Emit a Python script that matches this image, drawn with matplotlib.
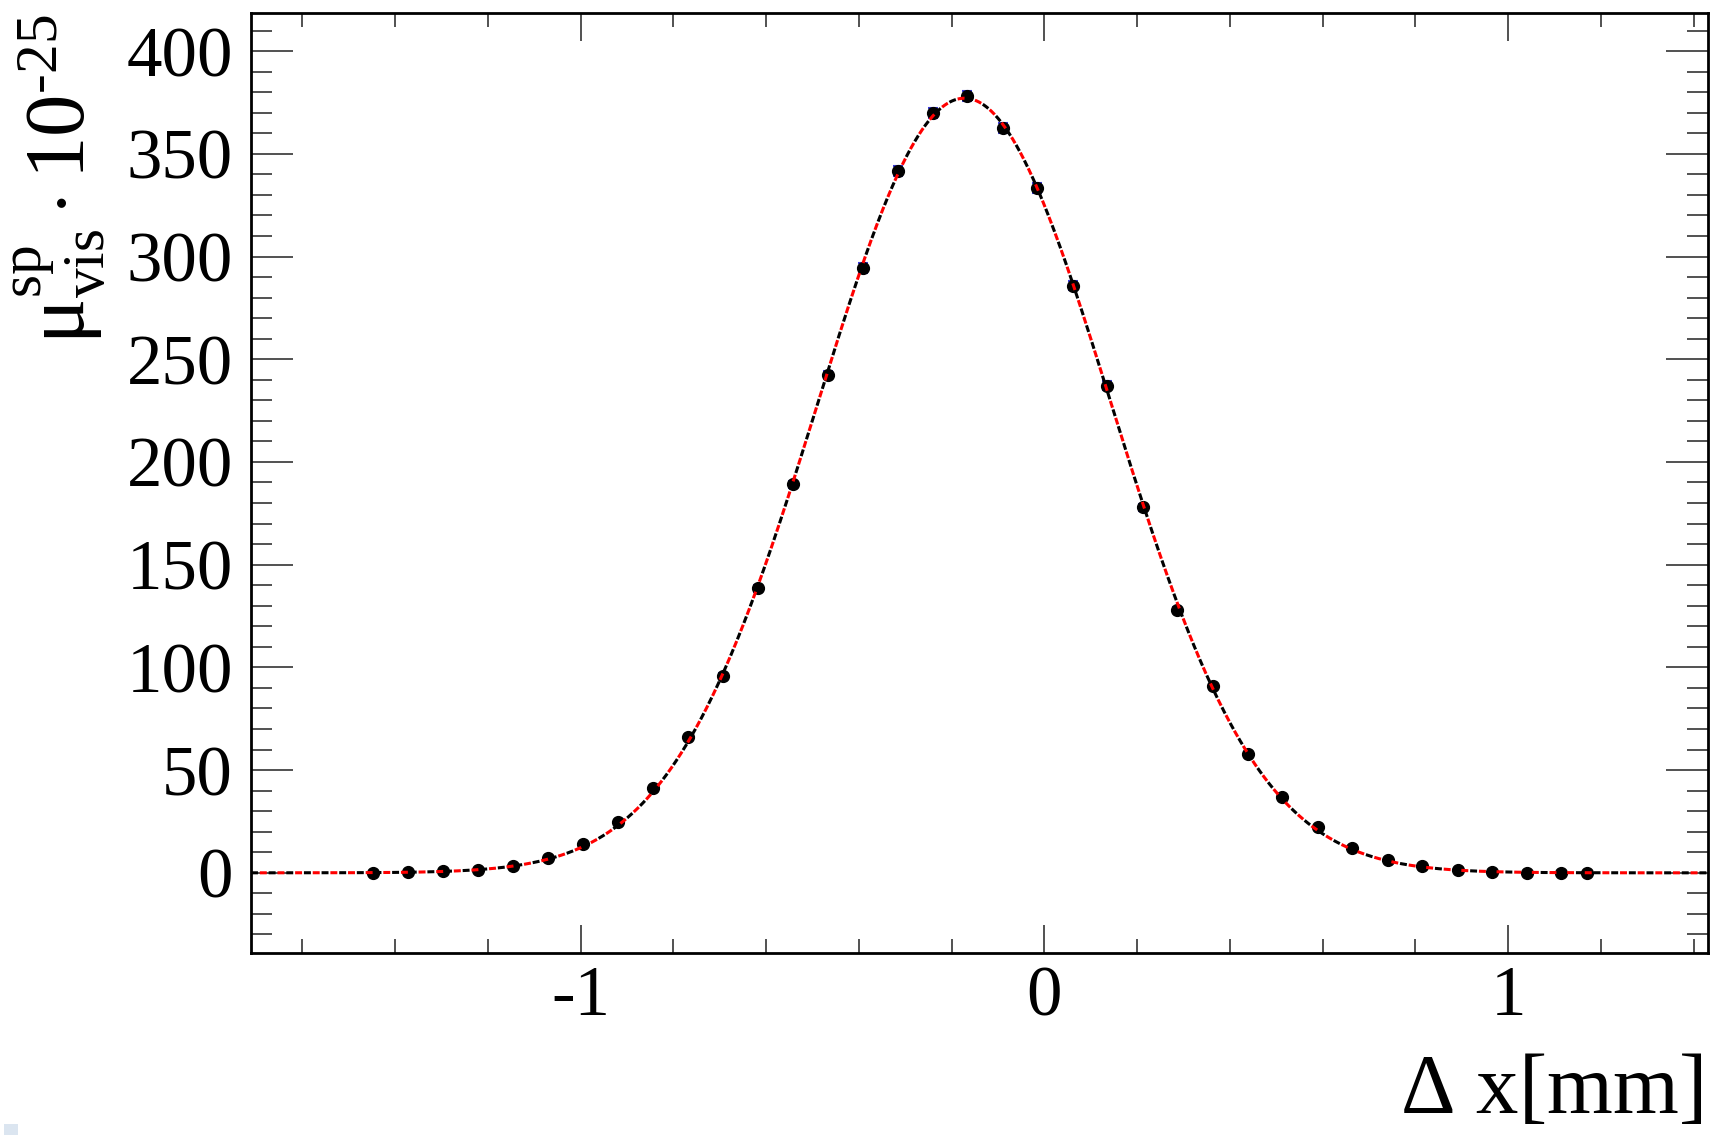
"""
Beam-separation scan: visible specific interaction rate vs. displacement
ROOT-like look (Times font, inward ticks on all sides)
"""
import numpy as np
import matplotlib
matplotlib.use('Agg')
import matplotlib.pyplot as plt
from matplotlib.patches import Rectangle
from matplotlib.ticker import MultipleLocator

plt.rcParams['font.family'] = ['Liberation Serif', 'DejaVu Serif']
plt.rcParams['mathtext.fontset'] = 'custom'
plt.rcParams['mathtext.rm'] = 'Liberation Serif'
plt.rcParams['mathtext.it'] = 'Liberation Serif:italic'
plt.rcParams['axes.unicode_minus'] = False
plt.rcParams['lines.scale_dashes'] = False

# Scan points
dx_mm = [-1.447, -1.372, -1.297, -1.222, -1.146, -1.071, -0.995, -0.920, -0.844,
         -0.769, -0.694, -0.618, -0.543, -0.467, -0.392, -0.316, -0.241, -0.166,
         -0.089, -0.015, 0.061, 0.136, 0.212, 0.287, 0.363, 0.438, 0.513, 0.589,
         0.664, 0.740, 0.815, 0.891, 0.966, 1.040, 1.115, 1.171]
mu_vis = [0.0, 0.3, 0.8, 1.5, 3.2, 7.3, 14.1, 24.6, 41.5,
          66.2, 95.9, 138.4, 189.1, 242.2, 294.4, 341.8, 370.0, 378.3,
          362.7, 333.3, 285.8, 237.2, 178.0, 128.0, 90.7, 57.8, 37.1, 22.5,
          12.2, 6.3, 3.1, 1.5, 0.4, 0.1, 0.0, 0.0]
mu_err = [0.1, 0.1, 0.2, 0.2, 0.3, 0.4, 0.6, 0.7, 0.9,
          1.1, 1.3, 1.6, 1.8, 2.0, 2.2, 2.4, 2.5, 2.5,
          2.4, 2.3, 2.2, 2.0, 1.7, 1.5, 1.3, 1.0, 0.8, 0.6,
          0.5, 0.4, 0.3, 0.2, 0.1, 0.1, 0.1, 0.1]

XLIM = (-1.711, 1.431)
YLIM = (-39, 418.5)

x = np.array(dx_mm)
y = np.array(mu_vis)

# Gaussian fit to the scan points (log-parabola, weighted)
sel = y > 3
a, b, c = np.polyfit(x[sel], np.log(y[sel]), 2, w=y[sel])
mean = -b / (2 * a)
sigma = np.sqrt(-1 / (2 * a))
amp = np.exp(c - b * b / (4 * a))
xf = np.linspace(XLIM[0], XLIM[1], 1200)
yf = amp * np.exp(-0.5 * ((xf - mean) / sigma) ** 2)

fig = plt.figure(figsize=(17.24, 11.35), dpi=100)
ax = fig.add_axes([0.1456, 0.1604, 0.8451, 0.8281])

ax.errorbar(x, y, yerr=mu_err, fmt='none', ecolor='#3a3ad8', elinewidth=1.5,
            capsize=3.6, capthick=1.5, zorder=2)
ax.plot(x, y, 'o', color='black', markersize=8.5, zorder=3)

# fit curves: black and red dashed, interleaved with small white gaps
ax.plot(xf, yf, color='black', lw=2.2, linestyle=(0, (5.0, 7.7)), zorder=4)
ax.plot(xf, yf, color='#ff0000', lw=2.2, linestyle=(6.35, (5.0, 7.7)), zorder=5)

ax.set_xlim(*XLIM)
ax.set_ylim(*YLIM)

ax.xaxis.set_major_locator(MultipleLocator(1))
ax.xaxis.set_minor_locator(MultipleLocator(0.2))
ax.yaxis.set_major_locator(MultipleLocator(50))
ax.yaxis.set_minor_locator(MultipleLocator(10))

ax.tick_params(which='both', direction='in', top=True, right=True, width=1.1, color='#222222')
ax.tick_params(axis='x', which='major', length=20, pad=9, labelsize=51)
ax.tick_params(axis='x', which='minor', length=10)
ax.tick_params(axis='y', which='major', length=30, pad=13, labelsize=51)
ax.tick_params(axis='y', which='minor', length=15)

for sp in ax.spines.values():
    sp.set_linewidth(2.0)

ax.set_xticks([-1, 0, 1])
ax.set_xticklabels(['-1', '0', '1'])

fig.text(0.9872, 0.0195, r'$\Delta$ x[mm]', ha='right', va='baseline', fontsize=61)
fig.text(0.0345, 0.987, r'$\mathrm{μ}_{\mathrm{vis}}^{\mathrm{sp}}\cdot10^{\mathrm{‐25}}$',
         rotation=90, ha='center', va='top', fontsize=61)

fig.patches.append(Rectangle((4 / 1724, 0), 14 / 1724, 11 / 1135, transform=fig.transFigure,
                             facecolor='#dbe5f0', edgecolor='none'))

plt.savefig('out.png', dpi=100)
plt.close()
